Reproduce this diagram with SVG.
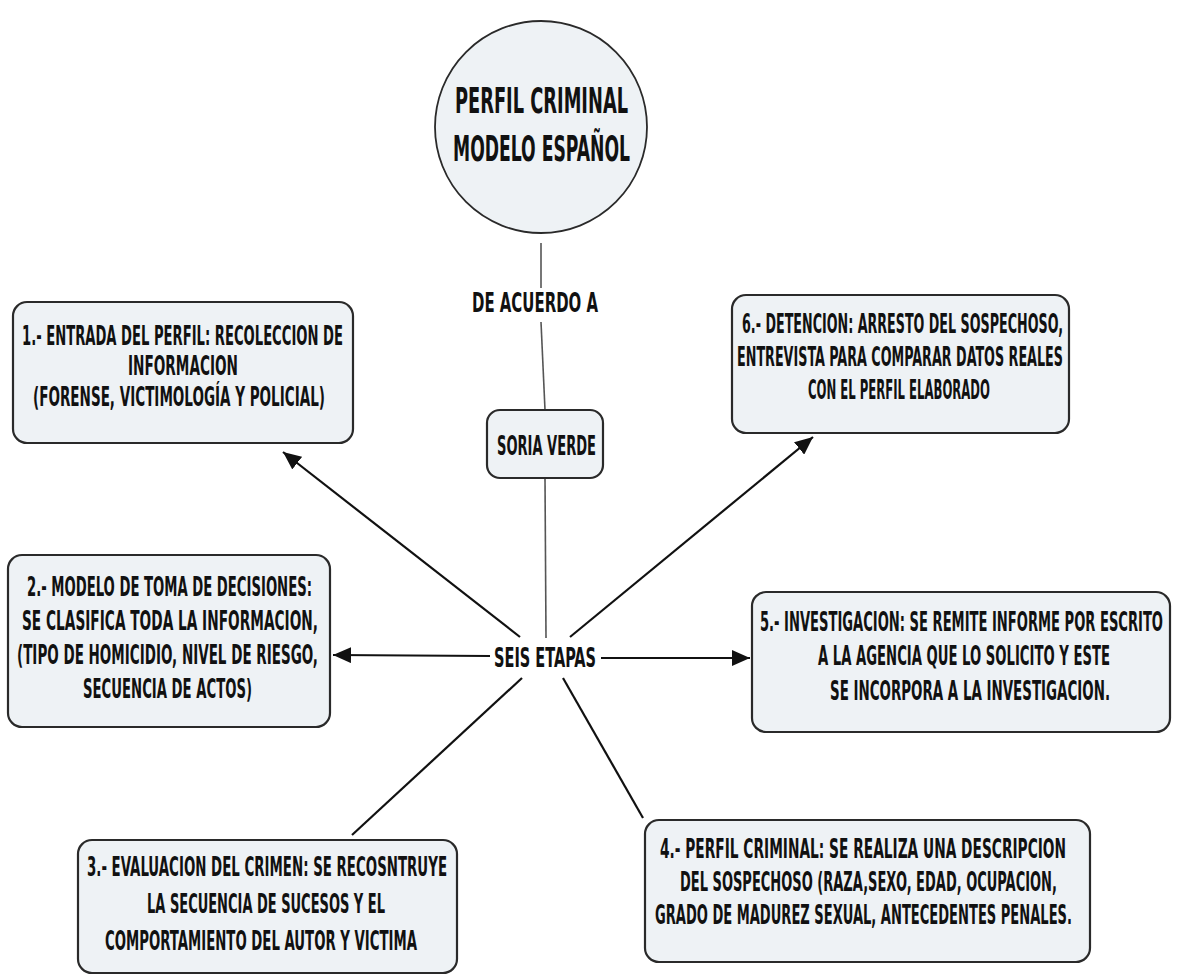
<svg xmlns="http://www.w3.org/2000/svg" width="1178" height="976" viewBox="0 0 1178 976">
<defs>
<style>
.bg{fill:#ffffff}
.box{fill:#eef2f5;stroke:#2a2a2a;stroke-width:2.2}
.circ{fill:#eef2f5;stroke:#2a2a2a;stroke-width:1.8}
.t{font-family:"DejaVu Sans","Liberation Sans",sans-serif;font-weight:bold;fill:#111;font-stretch:condensed}
.tb{font-size:27px}
.tc{font-size:36px}
.tl{font-size:26px}
.thin{stroke:#555;stroke-width:1.6;fill:none}
.dark{stroke:#111;stroke-width:2.2;fill:none}
</style>
<marker id="ah" markerUnits="userSpaceOnUse" markerWidth="20" markerHeight="16" refX="18" refY="8" orient="auto">
<path d="M0,0 L18,8 L0,16 z" fill="#111"/>
</marker>
</defs>
<rect class="bg" x="0" y="0" width="1178" height="976"/>

<g id="connectors">
<line class="thin" x1="541" y1="243" x2="541" y2="288"/>
<line class="thin" x1="541" y1="322" x2="545" y2="410"/>
<line class="thin" x1="545" y1="478" x2="546" y2="638"/>
<line class="dark" x1="490" y1="656" x2="333" y2="655" marker-end="url(#ah)"/>
<line class="dark" x1="601" y1="658" x2="750" y2="658" marker-end="url(#ah)"/>
<line class="dark" x1="520" y1="637" x2="283" y2="452" marker-end="url(#ah)"/>
<line class="dark" x1="570" y1="637" x2="813" y2="437" marker-end="url(#ah)"/>
<line class="dark" x1="522" y1="678" x2="352" y2="835"/>
<line class="dark" x1="563" y1="678" x2="643" y2="818"/>
</g>

<g id="n-main">
<circle class="circ" cx="541" cy="127" r="106"/>
<text class="t tc" transform="translate(455,113) scale(0.54,1)" textLength="320.4" lengthAdjust="spacingAndGlyphs">PERFIL CRIMINAL</text>
<text class="t tc" transform="translate(453,161) scale(0.54,1)" textLength="327.8" lengthAdjust="spacingAndGlyphs">MODELO ESPAÑOL</text>
</g>

<g id="l-acuerdo">
<text class="t tl" transform="translate(472,312) scale(0.54,1)" textLength="233.3" lengthAdjust="spacingAndGlyphs">DE ACUERDO A</text>
</g>

<g id="n-soria">
<rect class="box" x="487" y="410" width="116" height="68" rx="13"/>
<text class="t tl" transform="translate(497,455) scale(0.54,1)" textLength="183.3" lengthAdjust="spacingAndGlyphs">SORIA VERDE</text>
</g>

<g id="n-seis">
<text class="t tl" transform="translate(494,667) scale(0.54,1)" textLength="188.9" lengthAdjust="spacingAndGlyphs">SEIS ETAPAS</text>
</g>

<g id="n-1">
<rect class="box" x="13" y="302" width="340" height="141" rx="14"/>
<text class="t tb" transform="translate(22,345) scale(0.54,1)" textLength="594.4" lengthAdjust="spacingAndGlyphs">1.- ENTRADA DEL PERFIL: RECOLECCION DE</text>
<text class="t tb" transform="translate(128,375) scale(0.54,1)" textLength="203.7" lengthAdjust="spacingAndGlyphs">INFORMACION</text>
<text class="t tb" transform="translate(33,406) scale(0.54,1)" textLength="540.7" lengthAdjust="spacingAndGlyphs">(FORENSE, VICTIMOLOGÍA Y POLICIAL)</text>
</g>

<g id="n-6">
<rect class="box" x="732" y="295" width="337" height="138" rx="14"/>
<text class="t tb" transform="translate(742,333) scale(0.54,1)" textLength="594.4" lengthAdjust="spacingAndGlyphs">6.- DETENCION: ARRESTO DEL SOSPECHOSO,</text>
<text class="t tb" transform="translate(737,366) scale(0.54,1)" textLength="603.7" lengthAdjust="spacingAndGlyphs">ENTREVISTA PARA COMPARAR DATOS REALES</text>
<text class="t tb" transform="translate(808,399) scale(0.54,1)" textLength="337" lengthAdjust="spacingAndGlyphs">CON EL PERFIL ELABORADO</text>
</g>

<g id="n-2">
<rect class="box" x="8" y="555" width="322" height="172" rx="14"/>
<text class="t tb" transform="translate(27,596) scale(0.54,1)" textLength="527.8" lengthAdjust="spacingAndGlyphs">2.- MODELO DE TOMA DE DECISIONES:</text>
<text class="t tb" transform="translate(22,630) scale(0.54,1)" textLength="548.1" lengthAdjust="spacingAndGlyphs">SE CLASIFICA TODA LA INFORMACION,</text>
<text class="t tb" transform="translate(17,664) scale(0.54,1)" textLength="557.4" lengthAdjust="spacingAndGlyphs">(TIPO DE HOMICIDIO, NIVEL DE RIESGO,</text>
<text class="t tb" transform="translate(83,698) scale(0.54,1)" textLength="313" lengthAdjust="spacingAndGlyphs">SECUENCIA DE ACTOS)</text>
</g>

<g id="n-5">
<rect class="box" x="752" y="592" width="418" height="140" rx="14"/>
<text class="t tb" transform="translate(760,631) scale(0.54,1)" textLength="746.3" lengthAdjust="spacingAndGlyphs">5.- INVESTIGACION: SE REMITE INFORME POR ESCRITO</text>
<text class="t tb" transform="translate(818,665) scale(0.54,1)" textLength="540.7" lengthAdjust="spacingAndGlyphs">A LA AGENCIA QUE LO SOLICITO Y ESTE</text>
<text class="t tb" transform="translate(830,700) scale(0.54,1)" textLength="518.5" lengthAdjust="spacingAndGlyphs">SE INCORPORA A LA INVESTIGACION.</text>
</g>

<g id="n-3">
<rect class="box" x="78" y="840" width="379" height="133" rx="14"/>
<text class="t tb" transform="translate(87,876) scale(0.54,1)" textLength="666.7" lengthAdjust="spacingAndGlyphs">3.- EVALUACION DEL CRIMEN: SE RECOSNTRUYE</text>
<text class="t tb" transform="translate(147,913) scale(0.54,1)" textLength="440.7" lengthAdjust="spacingAndGlyphs">LA SECUENCIA DE SUCESOS Y EL</text>
<text class="t tb" transform="translate(105,950) scale(0.54,1)" textLength="577.8" lengthAdjust="spacingAndGlyphs">COMPORTAMIENTO DEL AUTOR Y VICTIMA</text>
</g>

<g id="n-4">
<rect class="box" x="645" y="820" width="445" height="142" rx="14"/>
<text class="t tb" transform="translate(660,858) scale(0.54,1)" textLength="751.9" lengthAdjust="spacingAndGlyphs">4.- PERFIL CRIMINAL: SE REALIZA UNA DESCRIPCION</text>
<text class="t tb" transform="translate(680,891) scale(0.54,1)" textLength="698.1" lengthAdjust="spacingAndGlyphs">DEL SOSPECHOSO (RAZA,SEXO, EDAD, OCUPACION,</text>
<text class="t tb" transform="translate(655,924) scale(0.54,1)" textLength="772.2" lengthAdjust="spacingAndGlyphs">GRADO DE MADUREZ SEXUAL, ANTECEDENTES PENALES.</text>
</g>
</svg>
